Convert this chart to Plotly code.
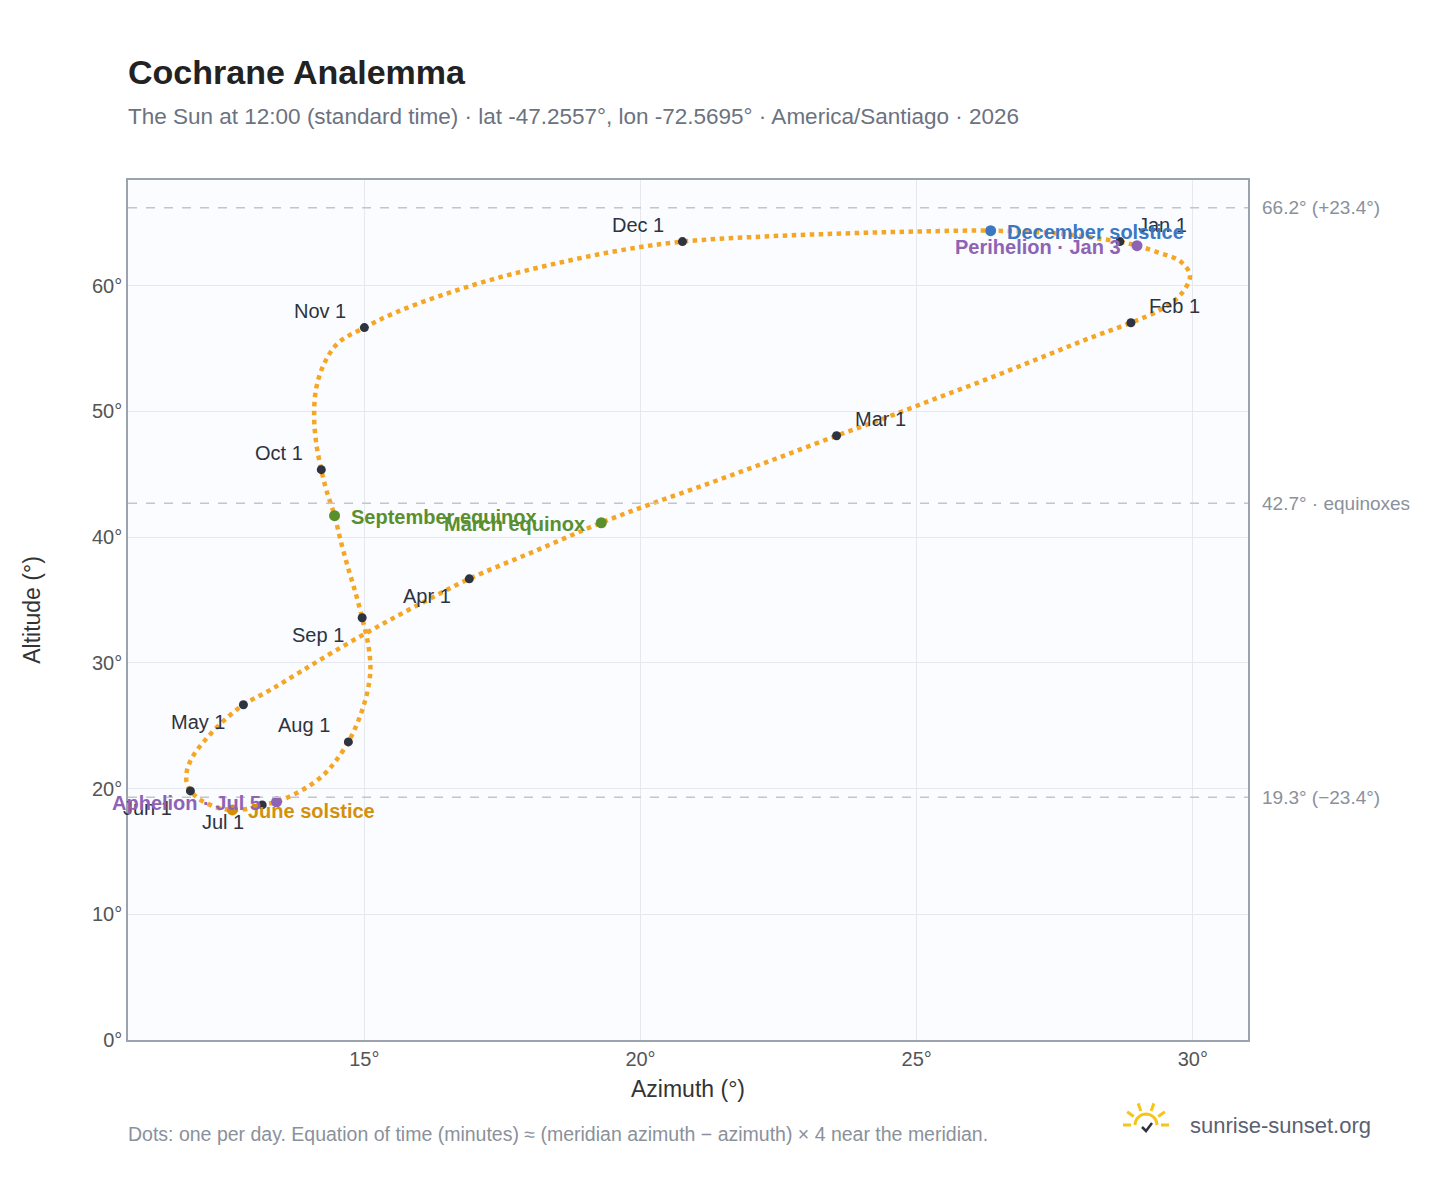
import math
import plotly.graph_objects as go

# Sun position at local noon (~every 5 days)
DATES = ["Jan 1", "Jan 3", "Jan 6", "Jan 11", "Jan 16", "Jan 21", "Jan 26", "Feb 1", "Feb 6", "Feb 11",
         "Feb 16", "Feb 21", "Feb 26", "Mar 1", "Mar 6", "Mar 11", "Mar 16", "Mar 20", "Mar 26", "Apr 1",
         "Apr 6", "Apr 11", "Apr 16", "Apr 21", "Apr 26", "May 1", "May 6", "May 11", "May 16", "May 21",
         "May 26", "Jun 1", "Jun 6", "Jun 11", "Jun 16", "Jun 21", "Jun 26", "Jul 1", "Jul 5", "Jul 10",
         "Jul 15", "Jul 20", "Jul 25", "Aug 1", "Aug 6", "Aug 11", "Aug 16", "Aug 21", "Aug 26", "Sep 1",
         "Sep 6", "Sep 11", "Sep 16", "Sep 22", "Sep 27", "Oct 1", "Oct 6", "Oct 11", "Oct 16", "Oct 21",
         "Oct 26", "Nov 1", "Nov 6", "Nov 11", "Nov 16", "Nov 21", "Nov 26", "Dec 1", "Dec 6", "Dec 11",
         "Dec 16", "Dec 21", "Dec 26", "Dec 31"]
AZIMUTH = [28.68, 28.99, 29.33, 29.78, 29.95, 29.78, 29.42, 28.88, 28.06, 27.16,
           26.25, 25.34, 24.44, 23.55, 22.45, 21.32, 20.20, 19.29, 18.10, 16.90,
           16.01, 15.20, 14.47, 13.84, 13.30, 12.81, 12.43, 12.12, 11.90, 11.79,
           11.78, 11.85, 12.03, 12.25, 12.43, 12.61, 12.88, 13.15, 13.41, 13.71,
           14.00, 14.26, 14.47, 14.71, 14.86, 14.98, 15.07, 15.11, 15.07, 14.96,
           14.84, 14.71, 14.58, 14.46, 14.31, 14.22, 14.13, 14.09, 14.13, 14.28,
           14.53, 15.00, 15.56, 16.38, 17.37, 18.46, 19.60, 20.76, 22.21, 23.62,
           24.98, 26.34, 27.57, 28.55]
ALTITUDE = [63.50, 63.18, 62.70, 61.91, 60.79, 59.28, 58.09, 57.05, 55.70, 54.11,
            52.52, 51.01, 49.49, 48.06, 46.23, 44.40, 42.65, 41.14, 38.91, 36.68,
            34.69, 32.78, 30.95, 29.28, 27.85, 26.66, 25.30, 23.87, 22.60, 21.48,
            20.53, 19.81, 19.10, 18.62, 18.38, 18.30, 18.38, 18.70, 18.94, 19.50,
            20.21, 21.09, 22.12, 23.71, 25.07, 26.50, 28.01, 29.60, 31.43, 33.58,
            35.57, 37.48, 39.55, 41.70, 43.77, 45.36, 47.43, 49.65, 51.88, 53.87,
            55.46, 56.66, 57.85, 59.20, 60.56, 61.75, 62.78, 63.50, 63.90, 64.14,
            64.30, 64.37, 64.14, 63.58]

MONTHS = ["Jan 1", "Feb 1", "Mar 1", "Apr 1", "May 1", "Jun 1",
          "Jul 1", "Aug 1", "Sep 1", "Oct 1", "Nov 1", "Dec 1"]
# (horizontal side, vertical side) of each month label relative to its dot
MONTH_SIDE = [(1, 1), (1, 1), (1, 1), (-1, -1), (-1, -1), (-1, -1),
              (-1, -1), (-1, 1), (-1, -1), (-1, 1), (-1, 1), (-1, 1)]

EVENTS = ["December solstice", "Perihelion · Jan 3", "March equinox",
          "September equinox", "June solstice", "Aphelion · Jul 5"]
EVENT_AZ = [26.34, 28.99, 19.29, 14.46, 12.61, 13.41]
EVENT_ALT = [64.37, 63.18, 41.14, 41.70, 18.30, 18.94]
EVENT_COLOR = ["#3a78c3", "#8e63b5", "#5a8f2e", "#5a8f2e", "#d4900a", "#8e63b5"]
EVENT_SIDE = ["right", "left", "left", "right", "right", "left"]

REF_ALT = [66.2, 42.7, 19.3]
REF_TEXT = ["66.2° (+23.4°)", "42.7° · equinoxes", "19.3° (−23.4°)"]

XTICKS = [15, 20, 25, 30]

ORANGE = "#f5a623"
DARK = "#2d3340"

fig = go.Figure()

fig.add_trace(go.Scatter(
    x=AZIMUTH, y=ALTITUDE, mode="lines",
    line=dict(color=ORANGE, width=4.5, dash="dot", shape="spline"),
    hoverinfo="skip", showlegend=False,
))

idx = [DATES.index(m) for m in MONTHS]
fig.add_trace(go.Scatter(
    x=[AZIMUTH[i] for i in idx], y=[ALTITUDE[i] for i in idx],
    mode="markers", marker=dict(size=9, color=DARK),
    showlegend=False,
))
for m, i, (sx, sy) in zip(MONTHS, idx, MONTH_SIDE):
    fig.add_annotation(x=AZIMUTH[i], y=ALTITUDE[i], text=m, showarrow=False,
                       xanchor="left" if sx > 0 else "right",
                       xshift=16 * sx, yshift=17 * sy, font=dict(size=20, color=DARK))

fig.add_trace(go.Scatter(
    x=EVENT_AZ, y=EVENT_ALT, mode="markers",
    marker=dict(size=11, color=EVENT_COLOR), showlegend=False,
))
for name, ax, al, col, side in zip(EVENTS, EVENT_AZ, EVENT_ALT, EVENT_COLOR, EVENT_SIDE):
    fig.add_annotation(x=ax, y=al, text=f"<b>{name}</b>", showarrow=False,
                       xanchor="left" if side == "right" else "right",
                       xshift=14 if side == "right" else -14, yshift=-1,
                       font=dict(size=20, color=col))

for a, t in zip(REF_ALT, REF_TEXT):
    fig.add_hline(y=a, line=dict(color="#c0c6ce", width=1.5, dash="dash"))
    fig.add_annotation(x=1, xref="paper", y=a, text=t, showarrow=False,
                       xanchor="left", xshift=12, font=dict(size=19, color="#8a919b"))

# logo: small sun with rays
cx, cy = (1146 - 128) / 1120, (1040 - 1125) / 860
for ang in [0, 35, 70, 110, 145, 180]:
    r = math.radians(ang)
    fig.add_shape(type="line", xref="paper", yref="paper",
                  x0=cx + 15 * math.cos(r) / 1120, y0=cy + 15 * math.sin(r) / 860,
                  x1=cx + 23 * math.cos(r) / 1120, y1=cy + 23 * math.sin(r) / 860,
                  line=dict(color="#f5c518", width=3))
arc = " ".join(f"L{cx + 11 * math.cos(math.radians(a)) / 1120},{cy + 11 * math.sin(math.radians(a)) / 860}"
               for a in range(0, 181, 15))
fig.add_shape(type="path", xref="paper", yref="paper", path="M" + arc[1:],
              line=dict(color="#f5c518", width=3))
fig.add_shape(type="path", xref="paper", yref="paper",
              path=f"M{cx - 4/1120},{cy - 2/860} L{cx},{cy - 6/860} L{cx + 6/1120},{cy + 2/860}",
              line=dict(color=DARK, width=2.5))
fig.add_annotation(x=(1188 - 128) / 1120, y=(1040 - 1125) / 860, xref="paper", yref="paper",
                   text="sunrise-sunset.org", showarrow=False, xanchor="left", yanchor="middle",
                   font=dict(size=22, color="#5a6170"))

fig.add_annotation(x=0, y=(1040 - 1134) / 860, xref="paper", yref="paper",
                   text="Dots: one per day. Equation of time (minutes) ≈ (meridian azimuth − azimuth) × 4 near the meridian.",
                   showarrow=False, xanchor="left", yanchor="middle", xshift=-2,
                   font=dict(size=19.5, color="#8a919b"))

fig.add_annotation(x=0, y=(1040 - 116) / 860, xref="paper", yref="paper",
                   text="The Sun at 12:00 (standard time) · lat -47.2557°, lon -72.5695° · America/Santiago · 2026",
                   showarrow=False, xanchor="left", yanchor="middle", xshift=-2,
                   font=dict(size=22.5, color="#6b7280"))

fig.update_layout(
    width=1448, height=1188,
    title=dict(
        text="<b>Cochrane Analemma</b>",
        x=120 / 1448, xanchor="left", y=1 - 64 / 1188, yanchor="middle",
        font=dict(size=34, color="#222"),
    ),
    font=dict(family="Liberation Sans, Arial, sans-serif", size=20, color="#555"),
    plot_bgcolor="#fafcff", paper_bgcolor="#ffffff",
    margin=dict(l=120, r=208, t=172, b=156),
    showlegend=False,
)
fig.update_xaxes(range=[10.72, 31.0], tickvals=XTICKS, ticktext=[f"{v}°" for v in XTICKS],
                 title=dict(text="Azimuth (°)", font=dict(size=23, color="#333"), standoff=12),
                 showgrid=True, gridcolor="#e5e9ef", zeroline=False,
                 showline=True, linecolor="#9aa3ae", linewidth=1.5, mirror=True,
                 tickfont=dict(size=20, color="#555"))
fig.update_yaxes(range=[0, 68.4], dtick=10, ticksuffix="°",
                 title=dict(text="Altitude (°)", font=dict(size=23, color="#333"), standoff=45),
                 showgrid=True, gridcolor="#e5e9ef", zeroline=False,
                 showline=True, linecolor="#9aa3ae", linewidth=1.5, mirror=True,
                 tickfont=dict(size=20, color="#555"))

fig.write_html("out.html")
